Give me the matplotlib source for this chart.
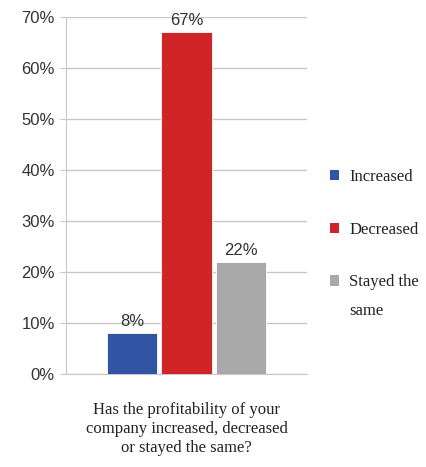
import matplotlib
matplotlib.use("Agg")
import matplotlib.pyplot as plt
from matplotlib.patches import Patch

categories = ["Increased", "Decreased", "Stayed the same"]
values = [8, 67, 22]
colors = ["#2f55a4", "#d02427", "#a9a9a9"]
yticks = [0, 10, 20, 30, 40, 50, 60, 70]
xlabel = "Has the profitability of your\ncompany increased, decreased\nor stayed the same?"

fig = plt.figure(figsize=(4.26, 4.67), dpi=100)
ax = fig.add_axes([0.155, 0.199, 0.566, 0.7645])

x = list(range(len(values)))
ax.bar(x, values, width=0.92, color=colors, edgecolor="white", linewidth=0.6, zorder=3)
for xi, v in zip(x, values):
    ax.text(xi, v + 0.8, f"{v}%", ha="center", va="bottom", fontsize=12,
            family="Liberation Sans", color="#333333")

ax.set_xlim(-1.21, 3.21)
ax.set_ylim(0, 70)
ax.set_yticks(yticks)
ax.set_yticklabels([f"{t}%" for t in yticks], fontsize=12, family="Liberation Sans",
                   color="#333333")
ax.set_xticks([])
ax.yaxis.grid(True, color="#c8c8c8", linewidth=1.0, zorder=0)
for s in ["top", "right"]:
    ax.spines[s].set_visible(False)
ax.spines["left"].set_color("#c8c8c8")
ax.spines["bottom"].set_color("#c8c8c8")
ax.tick_params(axis="y", length=4, color="#c8c8c8", pad=4)

ax.set_xlabel(xlabel, fontsize=12, family="Liberation Serif", color="#222222",
              labelpad=20, linespacing=1.25)

# legend: first line of each label in the legend, wrapped remainder placed below
first_lines = []
rest_lines = []
for c in categories:
    words = c.split(" ")
    if len(words) > 2:
        first_lines.append(" ".join(words[:2]))
        rest_lines.append(" ".join(words[2:]))
    else:
        first_lines.append(c)
        rest_lines.append("")

handles = [Patch(facecolor=c, edgecolor="none") for c in colors]
leg = fig.legend(handles, first_lines, loc="upper left", bbox_to_anchor=(0.775, 0.638),
                 frameon=False, prop={"family": "Liberation Serif", "size": 12},
                 handlelength=0.55, handleheight=0.55, handletextpad=0.6,
                 labelspacing=2.2, borderaxespad=0, borderpad=0)
for t in leg.get_texts():
    t.set_color("#222222")

fig.canvas.draw()
W, H = fig.bbox.width, fig.bbox.height
for t, rest in zip(leg.get_texts(), rest_lines):
    if rest:
        bb = t.get_window_extent()
        fig.text(bb.x0 / W, (bb.y0 - 29) / H, rest, ha="left", va="bottom",
                 fontsize=12, family="Liberation Serif", color="#222222")

fig.savefig("out.png", dpi=100)
